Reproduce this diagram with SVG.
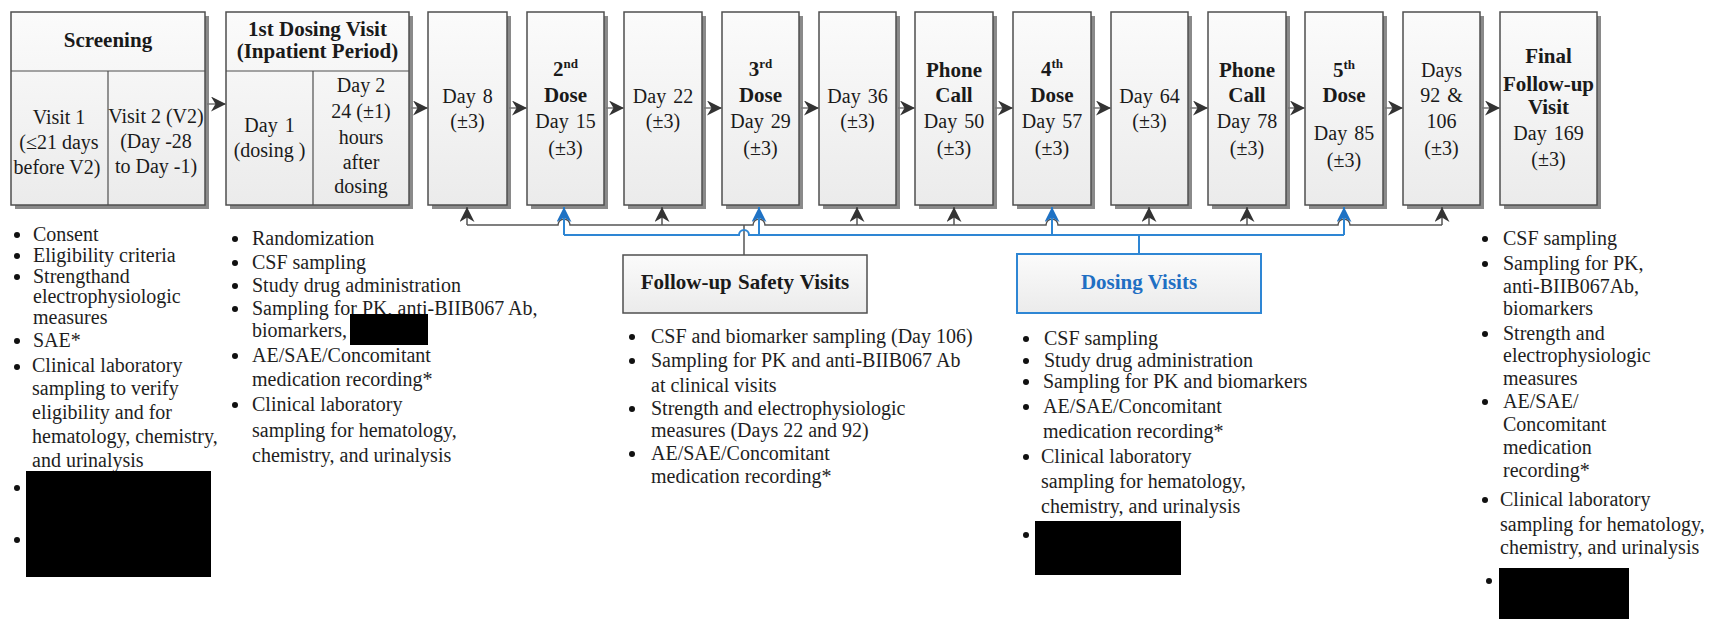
<svg xmlns="http://www.w3.org/2000/svg" width="1709" height="619" viewBox="0 0 1709 619">
<defs>
<linearGradient id="g" x1="0" y1="0" x2="0" y2="1">
<stop offset="0" stop-color="#fbfbfb"/>
<stop offset="1" stop-color="#ebebeb"/>
</linearGradient>
<marker id="ah" markerUnits="userSpaceOnUse" markerWidth="16" markerHeight="15" refX="15" refY="7.5" orient="auto" viewBox="0 0 16 15">
<path d="M0,0 L15,7.5 L0,15 L4.5,7.5 z" fill="#333"/>
</marker>
<marker id="ab" markerUnits="userSpaceOnUse" markerWidth="16" markerHeight="15" refX="15" refY="7.5" orient="auto" viewBox="0 0 16 15">
<path d="M0,0 L15,7.5 L0,15 L4.5,7.5 z" fill="#1f72c4"/>
</marker>
<style>
.box{fill:url(#g);stroke:#4f4f4f;stroke-width:1.5}
.sh{fill:#8a8a8a}
.div{stroke:#4f4f4f;stroke-width:1.2}
.t{font-family:"Liberation Serif","Times New Roman",serif;font-size:20px;fill:#1a1a1a;text-anchor:middle;word-spacing:2px}
.n{word-spacing:0}
.b{font-weight:bold;font-size:21px;word-spacing:0}
.l{font-family:"Liberation Serif","Times New Roman",serif;font-size:20px;fill:#1e1e1e}
.dot{fill:#111}
.gl{stroke:#555;stroke-width:1.5;fill:none}
.bl{stroke:#2e86d4;stroke-width:2;fill:none}
.ha{stroke:#777;stroke-width:1.5;fill:none;marker-end:url(#ah)}
.red{fill:#000}
</style>
</defs>
<rect width="1709" height="619" fill="#fff"/>

<g id="screening">
<rect class="sh" x="15" y="16" width="194" height="193"/>
<rect class="box" x="11" y="12" width="194" height="193"/>
<line class="div" x1="11" y1="71" x2="205" y2="71" stroke-width="2.5"/>
<line class="div" x1="108" y1="71" x2="108" y2="205"/>
<text class="t b" x="108" y="47">Screening</text>
<text class="t n" x="59" y="124">Visit 1</text>
<text class="t n" x="59" y="149">(≤21 days</text>
<text class="t n" x="57" y="174">before V2)</text>
<text class="t n" x="156" y="123">Visit 2 (V2)</text>
<text class="t n" x="156" y="148">(Day -28</text>
<text class="t n" x="156" y="173">to Day -1)</text>
</g>

<g id="first-dosing">
<rect class="sh" x="230" y="16" width="183" height="193"/>
<rect class="box" x="226" y="12" width="183" height="193"/>
<line class="div" x1="226" y1="71" x2="409" y2="71" stroke-width="2.5"/>
<line class="div" x1="313" y1="71" x2="313" y2="205"/>
<text class="t b" x="317.5" y="36">1st Dosing Visit</text>
<text class="t b" x="317.5" y="58">(Inpatient Period)</text>
<text class="t" x="269.5" y="132">Day 1</text>
<text class="t n" x="269.5" y="157">(dosing )</text>
<text class="t n" x="361" y="92">Day 2</text>
<text class="t n" x="361" y="118">24 (±1)</text>
<text class="t" x="361" y="144">hours</text>
<text class="t" x="361" y="169">after</text>
<text class="t" x="361" y="193">dosing</text>
</g>

<g id="day8">
<rect class="sh" x="432" y="16" width="79" height="193"/>
<rect class="box" x="428" y="12" width="79" height="193"/>
<text class="t" x="467.5" y="103">Day 8</text>
<text class="t" x="467.5" y="128">(±3)</text>
</g>

<g id="dose2">
<rect class="sh" x="531" y="16" width="77" height="193"/>
<rect class="box" x="527" y="12" width="77" height="193"/>
<text class="t b" x="565.5" y="76">2<tspan font-size="13" dy="-8">nd</tspan></text>
<text class="t b" x="565.5" y="102">Dose</text>
<text class="t" x="565.5" y="128">Day 15</text>
<text class="t" x="565.5" y="155">(±3)</text>
</g>

<g id="day22">
<rect class="sh" x="628" y="16" width="78" height="193"/>
<rect class="box" x="624" y="12" width="78" height="193"/>
<text class="t" x="663" y="103">Day 22</text>
<text class="t" x="663" y="128">(±3)</text>
</g>

<g id="dose3">
<rect class="sh" x="726" y="16" width="77" height="193"/>
<rect class="box" x="722" y="12" width="77" height="193"/>
<text class="t b" x="760.5" y="76">3<tspan font-size="13" dy="-8">rd</tspan></text>
<text class="t b" x="760.5" y="102">Dose</text>
<text class="t" x="760.5" y="128">Day 29</text>
<text class="t" x="760.5" y="155">(±3)</text>
</g>

<g id="day36">
<rect class="sh" x="823" y="16" width="77" height="193"/>
<rect class="box" x="819" y="12" width="77" height="193"/>
<text class="t" x="857.5" y="103">Day 36</text>
<text class="t" x="857.5" y="128">(±3)</text>
</g>

<g id="phone50">
<rect class="sh" x="919" y="16" width="78" height="193"/>
<rect class="box" x="915" y="12" width="78" height="193"/>
<text class="t b" x="954" y="77">Phone</text>
<text class="t b" x="954" y="102">Call</text>
<text class="t" x="954" y="128">Day 50</text>
<text class="t" x="954" y="155">(±3)</text>
</g>

<g id="dose4">
<rect class="sh" x="1017" y="16" width="78" height="193"/>
<rect class="box" x="1013" y="12" width="78" height="193"/>
<text class="t b" x="1052" y="76">4<tspan font-size="13" dy="-8">th</tspan></text>
<text class="t b" x="1052" y="102">Dose</text>
<text class="t" x="1052" y="128">Day 57</text>
<text class="t" x="1052" y="155">(±3)</text>
</g>

<g id="day64">
<rect class="sh" x="1115" y="16" width="77" height="193"/>
<rect class="box" x="1111" y="12" width="77" height="193"/>
<text class="t" x="1149.5" y="103">Day 64</text>
<text class="t" x="1149.5" y="128">(±3)</text>
</g>

<g id="phone78">
<rect class="sh" x="1212" y="16" width="78" height="193"/>
<rect class="box" x="1208" y="12" width="78" height="193"/>
<text class="t b" x="1247" y="77">Phone</text>
<text class="t b" x="1247" y="102">Call</text>
<text class="t" x="1247" y="128">Day 78</text>
<text class="t" x="1247" y="155">(±3)</text>
</g>

<g id="dose5">
<rect class="sh" x="1309" y="16" width="78" height="193"/>
<rect class="box" x="1305" y="12" width="78" height="193"/>
<text class="t b" x="1344" y="77">5<tspan font-size="13" dy="-8">th</tspan></text>
<text class="t b" x="1344" y="102">Dose</text>
<text class="t" x="1344" y="140">Day 85</text>
<text class="t" x="1344" y="167">(±3)</text>
</g>

<g id="days92">
<rect class="sh" x="1407" y="16" width="77" height="193"/>
<rect class="box" x="1403" y="12" width="77" height="193"/>
<text class="t" x="1441.5" y="77">Days</text>
<text class="t" x="1441.5" y="102">92 &amp;</text>
<text class="t" x="1441.5" y="128">106</text>
<text class="t" x="1441.5" y="155">(±3)</text>
</g>

<g id="final">
<rect class="sh" x="1504" y="16" width="97" height="193"/>
<rect class="box" x="1500" y="12" width="97" height="193"/>
<text class="t b" x="1548.5" y="63">Final</text>
<text class="t b" x="1548.5" y="91">Follow-up</text>
<text class="t b" x="1548.5" y="114">Visit</text>
<text class="t" x="1548.5" y="140">Day 169</text>
<text class="t" x="1548.5" y="166">(±3)</text>
</g>

<g id="followup-safety">
<rect class="box" x="623" y="255" width="244" height="58"/>
<text class="t b" x="745" y="289" style="word-spacing:1px">Follow-up Safety Visits</text>
</g>

<g id="dosing-visits">
<rect x="1017" y="254" width="244" height="59" fill="url(#g)" stroke="#2e86d4" stroke-width="2"/>
<text class="t b" x="1139" y="289" style="fill:#1f6fc3">Dosing Visits</text>
</g>

<g id="connectors">
<path class="ha" d="M207,104 H226"/>
<path class="ha" d="M411,108 H428"/>
<path class="ha" d="M509,108 H527"/>
<path class="ha" d="M606,108 H624"/>
<path class="ha" d="M704,108 H722"/>
<path class="ha" d="M801,108 H819"/>
<path class="ha" d="M898,108 H915"/>
<path class="ha" d="M995,108 H1013"/>
<path class="ha" d="M1093,108 H1111"/>
<path class="ha" d="M1190,108 H1208"/>
<path class="ha" d="M1288,108 H1305"/>
<path class="ha" d="M1385,108 H1403"/>
<path class="ha" d="M1482,108 H1500"/>

<path class="gl" d="M467,225 H558 A6,6 0 0 1 570,225 H753 A6,6 0 0 1 765,225 H1046 A6,6 0 0 1 1058,225 H1338 A6,6 0 0 1 1350,225 H1442"/>
<path class="gl" d="M467,225 V207" marker-end="url(#ah)"/>
<path class="gl" d="M662,225 V207" marker-end="url(#ah)"/>
<path class="gl" d="M857,225 V207" marker-end="url(#ah)"/>
<path class="gl" d="M954,225 V207" marker-end="url(#ah)"/>
<path class="gl" d="M1149,225 V207" marker-end="url(#ah)"/>
<path class="gl" d="M1247,225 V207" marker-end="url(#ah)"/>
<path class="gl" d="M1442,225 V207" marker-end="url(#ah)"/>
<path class="gl" d="M744,255 V225"/>

<path class="bl" d="M564,235 H739 A5,5 0 0 1 749,235 H1344"/>
<path class="bl" d="M564,235 V207" marker-end="url(#ab)"/>
<path class="bl" d="M759,235 V207" marker-end="url(#ab)"/>
<path class="bl" d="M1052,235 V207" marker-end="url(#ab)"/>
<path class="bl" d="M1344,235 V207" marker-end="url(#ab)"/>
<path class="bl" d="M1139,254 V235"/>
</g>

<g id="screening-list">
<circle class="dot" cx="17" cy="235" r="3"/>
<circle class="dot" cx="17" cy="256" r="3"/>
<circle class="dot" cx="17" cy="277" r="3"/>
<circle class="dot" cx="17" cy="341" r="3"/>
<circle class="dot" cx="17" cy="367" r="3"/>
<circle class="dot" cx="17" cy="488" r="3"/>
<circle class="dot" cx="17" cy="540" r="3"/>
<text class="l" x="33" y="241">Consent</text>
<text class="l" x="33" y="262">Eligibility criteria</text>
<text class="l" x="33" y="283">Strengthand</text>
<text class="l" x="33" y="303">electrophysiologic</text>
<text class="l" x="33" y="324">measures</text>
<text class="l" x="33" y="347">SAE*</text>
<text class="l" x="32" y="372">Clinical laboratory</text>
<text class="l" x="32" y="395">sampling to verify</text>
<text class="l" x="32" y="419">eligibility and for</text>
<text class="l" x="32" y="443">hematology, chemistry,</text>
<text class="l" x="32" y="467">and urinalysis</text>
<rect class="red" x="26" y="471" width="185" height="106"/>
</g>

<g id="first-dosing-list">
<circle class="dot" cx="235" cy="239" r="3"/>
<circle class="dot" cx="235" cy="263" r="3"/>
<circle class="dot" cx="235" cy="286" r="3"/>
<circle class="dot" cx="235" cy="309" r="3"/>
<circle class="dot" cx="235" cy="356" r="3"/>
<circle class="dot" cx="235" cy="405" r="3"/>
<text class="l" x="252" y="245">Randomization</text>
<text class="l" x="252" y="269">CSF sampling</text>
<text class="l" x="252" y="292">Study drug administration</text>
<text class="l" x="252" y="315">Sampling for PK, anti-BIIB067 Ab,</text>
<text class="l" x="252" y="337">biomarkers,</text>
<rect class="red" x="350" y="314" width="78" height="31"/>
<text class="l" x="252" y="362">AE/SAE/Concomitant</text>
<text class="l" x="252" y="386">medication recording*</text>
<text class="l" x="252" y="411">Clinical laboratory</text>
<text class="l" x="252" y="437">sampling for hematology,</text>
<text class="l" x="252" y="462">chemistry, and urinalysis</text>
</g>

<g id="followup-list">
<circle class="dot" cx="632" cy="337" r="3"/>
<circle class="dot" cx="632" cy="361" r="3"/>
<circle class="dot" cx="632" cy="409" r="3"/>
<circle class="dot" cx="632" cy="454" r="3"/>
<text class="l" x="651" y="343">CSF and biomarker sampling (Day 106)</text>
<text class="l" x="651" y="367">Sampling for PK and anti-BIIB067 Ab</text>
<text class="l" x="651" y="392">at clinical visits</text>
<text class="l" x="651" y="415">Strength and electrophysiologic</text>
<text class="l" x="651" y="437">measures (Days 22 and 92)</text>
<text class="l" x="651" y="460">AE/SAE/Concomitant</text>
<text class="l" x="651" y="483">medication recording*</text>
</g>

<g id="dosing-list">
<circle class="dot" cx="1026" cy="339" r="3"/>
<circle class="dot" cx="1026" cy="361" r="3"/>
<circle class="dot" cx="1026" cy="382" r="3"/>
<circle class="dot" cx="1026" cy="407" r="3"/>
<circle class="dot" cx="1026" cy="457" r="3"/>
<circle class="dot" cx="1026" cy="535" r="3"/>
<text class="l" x="1044" y="345">CSF sampling</text>
<text class="l" x="1044" y="367">Study drug administration</text>
<text class="l" x="1043" y="388">Sampling for PK and biomarkers</text>
<text class="l" x="1043" y="413">AE/SAE/Concomitant</text>
<text class="l" x="1043" y="438">medication recording*</text>
<text class="l" x="1041" y="463">Clinical laboratory</text>
<text class="l" x="1041" y="488">sampling for hematology,</text>
<text class="l" x="1041" y="513">chemistry, and urinalysis</text>
<rect class="red" x="1035" y="521" width="146" height="54"/>
</g>

<g id="final-list">
<circle class="dot" cx="1485" cy="239" r="3"/>
<circle class="dot" cx="1485" cy="264" r="3"/>
<circle class="dot" cx="1485" cy="334" r="3"/>
<circle class="dot" cx="1485" cy="402" r="3"/>
<circle class="dot" cx="1485" cy="500" r="3"/>
<circle class="dot" cx="1489" cy="581" r="3"/>
<text class="l" x="1503" y="245">CSF sampling</text>
<text class="l" x="1503" y="270">Sampling for PK,</text>
<text class="l" x="1503" y="293">anti-BIIB067Ab,</text>
<text class="l" x="1503" y="315">biomarkers</text>
<text class="l" x="1503" y="340">Strength and</text>
<text class="l" x="1503" y="362">electrophysiologic</text>
<text class="l" x="1503" y="385">measures</text>
<text class="l" x="1503" y="408">AE/SAE/</text>
<text class="l" x="1503" y="431">Concomitant</text>
<text class="l" x="1503" y="454">medication</text>
<text class="l" x="1503" y="477">recording*</text>
<text class="l" x="1500" y="506">Clinical laboratory</text>
<text class="l" x="1500" y="531">sampling for hematology,</text>
<text class="l" x="1500" y="554">chemistry, and urinalysis</text>
<rect class="red" x="1499" y="568" width="130" height="51"/>
</g>
</svg>
